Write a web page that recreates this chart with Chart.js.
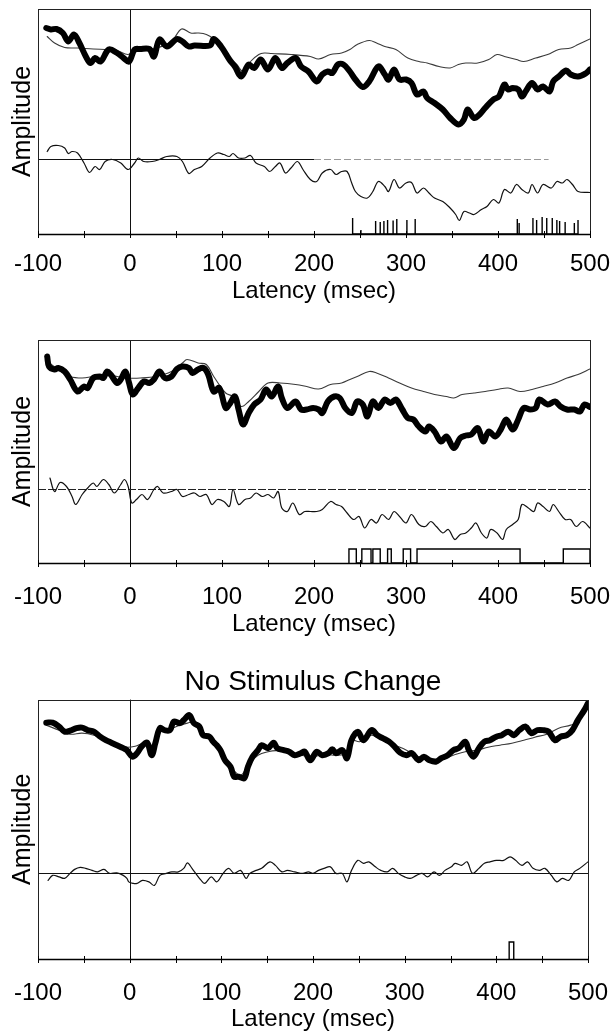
<!DOCTYPE html>
<html>
<head>
<meta charset="utf-8">
<title>ERP panels</title>
<script src="https://cdn.jsdelivr.net/npm/chart.js@4.4.1/dist/chart.umd.min.js"></script>
<style>
  html, body { margin: 0; padding: 0; background: #fff; }
  body { width: 610px; height: 1034px; position: relative; overflow: hidden; }
  .panel { position: absolute; left: 0; width: 610px; }
</style>
</head>
<body>
<div class="panel" id="w1" style="top:0;height:306px"><canvas id="c1"></canvas></div>
<div class="panel" id="w2" style="top:331px;height:308px"><canvas id="c2"></canvas></div>
<div class="panel" id="w3" style="top:655px;height:379px"><canvas id="c3"></canvas></div>
<script>
// latency axis (msec)
const xTickLabels = [-100, 0, 100, 200, 300, 400, 500];
const xMinorTicks = [-50, 50, 150, 250, 350, 450];

// ---- panel 1 ----
const p1ThickT = [-91,-86,-80,-73,-67,-61,-55,-48,-43,-38,-32,-23,-14,-7,-1,5,11,21,26,32,40,51,57,64,70,87,91,99,108,114,121,129,135,142,150,158,165,171,180,186,194,203,209,215,220,226,232,239,245,253,260,270,277,281,287,293,300,306,312,319,323,331,340,348,357,363,367,374,380,386,395,401,407,411,416,422,426,430,437,443,449,456,460,466,474,479,487,496,500];
const p1ThickV = [26.2,25.9,26.0,25.2,23.5,24.9,23.2,20.5,19.2,20.2,19.5,21.9,21.2,20.2,19.5,21.9,22.0,22.0,20.5,23.9,22.5,24.0,23.5,22.5,22.7,22.7,24.0,22.5,19.9,18.5,16.5,18.9,18.2,19.9,17.9,20.2,18.2,19.2,20.2,18.5,17.5,15.5,16.9,17.5,17.2,18.9,18.9,17.5,15.9,14.4,15.5,18.5,16.9,15.9,17.9,15.9,15.9,15.2,12.9,13.5,12.2,11.2,9.9,8.2,6.9,7.9,9.9,8.2,8.9,10.2,11.9,12.5,14.9,13.9,14.2,13.9,12.5,13.5,15.2,13.9,14.5,13.5,15.5,16.5,17.7,16.9,16.5,17.2,17.9];
const p1ThinT = [-90,-82,-71,-57,-40,-23,-14,-2,7,28,45,56,66,74,83,91,99,108,116,123,131,140,146,154,175,196,205,218,230,239,247,260,268,277,289,302,314,323,336,348,357,365,378,390,399,407,420,428,441,454,466,479,487,500];
const p1ThinV = [24.5,23.2,22.3,22.2,22.0,21.9,21.7,20.9,22.0,22.2,23.5,26.0,25.2,25.2,24.9,24.0,22.5,20.2,18.9,17.5,19.5,20.9,21.2,21.1,20.9,20.5,20.0,20.9,21.2,21.9,22.9,23.7,23.2,22.5,21.9,20.2,19.5,19.2,18.5,18.2,18.9,19.2,19.2,19.9,20.9,20.5,19.9,19.5,20.2,20.9,21.9,22.2,22.9,24.0];
const p1DiffT = [-90,-86,-78,-71,-67,-63,-57,-50,-44,-38,-33,-27,-19,-10,-2,5,9,15,24,32,40,51,57,64,70,78,87,95,102,108,112,118,125,131,137,146,152,158,163,169,175,182,188,196,203,209,218,224,230,236,241,245,251,258,264,270,277,281,287,293,300,306,312,319,325,331,340,348,354,358,363,369,374,382,388,395,401,407,414,420,426,433,437,443,449,458,464,470,475,481,487,500];
const p1DiffV = [1.5,2.5,2.7,2.2,1.1,1.5,1.2,-0.8,-2.7,-1.5,-2.1,-0.5,-0.1,-0.8,-2.1,-0.8,0.2,-0.5,-0.5,-0.1,0.5,0.5,-0.5,-2.9,-2.1,-1.5,0.2,1.2,0.9,0.5,1.1,0.2,0.2,0.7,-0.8,-1.5,-2.5,-1.5,-0.8,-2.8,-1.8,-0.5,-2.1,-4.1,-4.5,-2.8,-2.1,-3.1,-2.5,-2.5,-4.8,-6.5,-7.5,-7.8,-6.5,-4.5,-5.5,-6.5,-4.1,-5.8,-4.8,-4.7,-6.8,-5.8,-6.8,-7.8,-8.5,-9.8,-11.1,-12.3,-10.5,-10.8,-11.1,-10.1,-9.5,-8.1,-8.8,-6.1,-6.8,-5.1,-6.1,-6.8,-5.1,-6.8,-5.1,-5.8,-4.5,-4.8,-4.1,-5.1,-6.5,-6.7];
// significant latencies (single samples)
const p1Spikes = [242,251,267,272,276,280,286,290,301,310,421,423,438,442,448,453,459,464,467,473,483,487];
const p1SpikeH = [3.2,0.8,2.6,2.4,2.6,2.8,2.7,3.0,2.8,3.0,3.0,2.2,3.2,2.8,3.4,3.2,3.2,2.8,2.6,2.4,2.2,2.8];

// ---- panel 2 ----
const p2ThickT = [-90,-88,-82,-78,-71,-65,-57,-50,-46,-40,-33,-29,-25,-21,-14,-10,-5,-1,3,9,15,21,26,32,38,45,51,57,64,68,74,80,85,91,97,104,108,114,118,123,129,135,142,148,154,161,165,171,180,186,192,199,205,209,215,222,228,234,241,247,253,258,264,270,277,283,289,296,302,308,314,321,325,331,338,344,352,359,365,371,378,384,390,397,403,409,416,422,428,435,441,445,454,462,468,475,483,489,494,500];
const p2ThickV = [26.5,24.5,23.9,24.2,23.5,21.9,19.5,20.5,20.2,22.2,22.5,22.2,23.5,22.9,21.2,21.9,23.5,21.2,18.9,20.2,21.5,21.2,21.9,23.5,22.2,22.5,24.0,24.5,24.2,23.2,23.9,24.2,22.9,19.5,20.2,16.2,16.9,18.5,15.9,12.9,15.2,16.9,17.9,19.9,18.5,20.5,18.2,16.2,17.5,15.9,15.9,16.2,15.9,15.2,17.5,18.5,18.2,16.2,15.2,17.5,16.9,14.5,17.5,16.2,17.9,17.2,17.9,15.9,14.2,13.9,12.5,11.5,12.5,11.5,9.5,10.5,8.2,10.2,10.7,10.9,12.2,9.5,11.5,10.5,11.9,13.9,11.9,13.9,16.2,15.9,16.2,17.9,16.9,17.5,16.5,15.9,15.9,15.5,16.9,16.4];
const p2ThinT = [-90,-78,-65,-52,-40,-27,-14,-2,11,28,45,57,62,74,83,91,104,112,121,129,140,150,163,180,192,205,218,230,239,247,260,268,281,293,306,319,331,344,352,361,374,386,399,411,424,437,449,462,475,487,500];
const p2ThinV = [25.5,23.9,22.5,22.2,22.5,22.9,22.5,22.2,22.2,22.5,23.5,25.2,25.9,25.2,24.9,22.5,19.2,18.5,16.5,17.5,19.5,21.2,21.2,20.9,20.5,20.0,20.9,21.2,21.9,22.5,23.5,23.2,22.2,21.2,20.2,19.5,18.9,18.5,18.2,18.9,19.2,19.5,19.9,20.2,19.5,19.9,20.5,21.2,22.2,22.9,24.0];
const p2DiffT = [-87,-82,-76,-69,-63,-59,-52,-46,-40,-36,-29,-23,-17,-10,-6,-2,2,7,13,19,26,30,36,45,51,57,64,70,76,83,89,95,102,108,112,118,125,131,137,144,150,156,161,165,171,177,184,190,196,203,209,218,224,230,236,243,249,255,262,268,274,281,287,293,300,306,314,321,327,333,340,346,353,359,365,371,376,382,388,392,399,405,409,416,422,426,433,439,443,449,456,460,466,473,479,485,492,500];
const p2DiffV = [2.2,-0.5,1.3,0.5,-1.5,-3.1,-1.1,0.2,1.2,0.5,1.9,0.9,-0.8,0.9,1.9,0.5,-2.8,-2.1,-1.1,-2.1,-0.1,0.5,-0.8,-0.5,-0.1,-1.5,-1.1,-0.8,-1.5,-1.1,-3.1,-2.1,-2.5,-3.5,-0.1,-3.1,-2.1,-1.8,-0.8,-1.5,-1.1,-1.8,-0.5,-3.8,-4.5,-2.8,-5.1,-4.5,-4.5,-4.5,-4.1,-2.5,-3.1,-3.5,-4.8,-6.1,-5.5,-7.8,-6.1,-6.8,-5.1,-6.1,-4.5,-5.5,-6.8,-5.1,-7.1,-7.5,-6.5,-7.5,-8.8,-8.1,-10.1,-9.1,-8.8,-7.8,-6.8,-8.8,-9.8,-8.1,-8.8,-10.1,-8.1,-7.1,-6.1,-3.1,-3.8,-4.5,-2.8,-3.5,-4.5,-3.1,-4.5,-6.1,-6.1,-7.5,-6.5,-7.8];
// significant windows (msec)
const p2WinStart = [238,252,264,280,297,312,471];
const p2WinEnd = [246,262,272,284,305,424,500];

// ---- panel 3: No Stimulus Change ----
const p3ThickT = [-91,-84,-77,-71,-65,-58,-52,-46,-39,-33,-26,-20,-14,-7,-3,3,8,13,19,24,28,33,38,44,48,55,59,65,70,76,80,87,91,95,99,104,110,114,119,125,129,134,140,144,151,157,161,168,174,180,187,191,197,204,210,217,221,225,232,237,242,249,255,264,270,276,283,289,295,302,308,315,321,327,334,340,347,353,359,366,370,375,381,387,393,400,406,413,419,425,432,438,445,451,457,464,470,477,483,489,496,500];
const p3ThickV = [30.0,30.0,29.2,28.2,28.4,28.9,29.0,28.5,28.2,27.3,26.5,26.0,25.5,24.9,24.5,23.2,23.9,25.2,26.0,23.5,25.9,28.9,28.5,28.5,30.2,29.9,30.5,31.5,29.9,29.2,27.5,27.2,26.2,25.5,24.5,22.5,21.2,19.2,19.2,18.9,21.2,23.2,24.5,25.5,24.9,26.0,24.9,24.5,24.2,23.5,23.9,24.2,22.5,24.2,23.5,23.9,24.7,23.9,24.5,22.9,26.5,28.2,26.5,28.5,27.5,26.9,26.2,25.2,24.0,23.5,23.9,22.5,23.2,22.5,22.2,22.9,23.5,24.5,24.9,26.2,24.5,23.2,24.9,26.2,26.5,27.2,27.5,28.2,27.5,28.5,29.2,27.9,28.5,28.5,28.2,26.5,27.2,27.5,28.5,30.5,32.5,33.9];
const p3ThinT = [-91,-77,-65,-52,-39,-26,-14,-3,6,16,27,33,46,55,63,72,80,91,99,110,121,129,140,151,161,174,187,200,212,225,237,242,251,264,276,289,302,315,327,340,353,366,379,391,404,417,430,442,455,468,481,489,500];
const p3ThinV = [29.5,28.5,27.7,27.9,27.5,26.5,25.5,25.1,25.3,25.9,25.5,28.2,28.9,29.5,29.9,30.2,28.2,26.0,24.2,21.2,19.5,21.5,23.5,24.2,24.4,24.0,23.5,23.2,23.7,23.5,23.9,26.5,26.2,27.5,26.5,25.5,24.5,23.2,22.9,22.7,23.5,24.2,24.5,25.1,25.5,25.9,26.5,27.1,27.7,28.9,29.5,30.2,33.5];
const p3DiffT = [-89,-84,-77,-71,-65,-60,-54,-48,-41,-35,-28,-22,-14,-7,-3,-1,4,8,14,21,27,33,40,46,53,59,63,68,72,78,82,89,95,102,108,114,121,127,131,138,144,153,159,166,172,180,189,195,200,206,212,219,225,232,237,242,249,255,261,268,274,281,287,293,300,306,313,319,325,332,338,344,351,355,362,368,374,381,387,393,400,408,415,421,428,434,440,447,453,460,466,472,479,485,491,500];
const p3DiffV = [-1.5,-0.5,-0.8,-1.1,-0.1,0.7,1.1,0.9,0.5,0.2,0.7,-0.1,0,-0.5,-1.1,-1.8,-2.1,-2.1,-1.5,-1.8,-2.5,-0.5,-0.1,0.2,0.2,0.9,2.0,0.9,-0.1,-1.5,-2.1,-0.8,-1.8,-0.1,0.9,-0.1,0.5,-1.1,-0.1,0.5,0.9,2.2,1.5,0.2,0.5,0.2,-0.1,0.2,-0.1,0.5,0.9,1.2,-0.1,-0.1,-1.8,0.5,2.5,1.9,2.2,1.2,0.5,0.2,0.9,-0.1,-0.8,-1.1,-0.5,-0.1,-0.8,0.2,-0.5,0.5,1.2,1.9,1.5,2.2,-0.1,0.9,1.9,2.2,2.5,2.5,3.2,2.5,1.5,2.2,0.9,0.5,0.9,-0.5,-1.8,-1.1,-1.5,0.2,0.9,2.2];
const p3WinStart = [414];
const p3WinEnd = [419];

Chart.defaults.font.family = "'Liberation Sans', Arial, sans-serif";
Chart.defaults.color = '#000';

const pts = (T, V) => T.map((t, i) => ({ x: t, y: V[i] }));

// vertical ticks sitting on the bottom axis
function spikePts(times, heights, base) {
  const out = [];
  times.forEach((t, i) => out.push({ x: t, y: base }, { x: t, y: base + heights[i] }, { x: t, y: base }));
  return out;
}
// boxes for significant windows
function windowPts(starts, ends, h, base) {
  const out = [];
  starts.forEach((s, i) => out.push({ x: s, y: base }, { x: s, y: base + h }, { x: ends[i], y: base + h }, { x: ends[i], y: base }));
  return out;
}

// frame, onset line, baseline and axis ticks
const paper = {
  id: 'paper',
  beforeDatasetsDraw(chart, args, opts) {
    const { ctx, chartArea: a, scales: { x, y } } = chart;
    ctx.save();
    ctx.lineWidth = 1;
    ctx.strokeStyle = '#111';
    const x0 = Math.round(x.getPixelForValue(0)) + 0.5;
    ctx.beginPath(); ctx.moveTo(x0, a.top); ctx.lineTo(x0, a.bottom); ctx.stroke();
    const yb = Math.round(y.getPixelForValue(0)) + 0.5;
    opts.baseline.forEach((seg) => {
      ctx.setLineDash(seg.dash || []);
      ctx.strokeStyle = seg.color;
      ctx.beginPath();
      ctx.moveTo(x.getPixelForValue(seg.from), yb);
      ctx.lineTo(x.getPixelForValue(seg.to), yb);
      ctx.stroke();
    });
    ctx.restore();
  },
  afterDatasetsDraw(chart) {
    const { ctx, chartArea: a, scales: { x } } = chart;
    ctx.save();
    ctx.strokeStyle = '#222';
    ctx.lineWidth = 1;
    ctx.strokeRect(Math.round(a.left) + 0.5, Math.round(a.top) + 0.5, Math.round(a.width), Math.round(a.height));
    ctx.strokeStyle = '#000';
    ctx.lineWidth = 1.4;
    ctx.beginPath(); ctx.moveTo(a.left, Math.round(a.bottom) + 0.5); ctx.lineTo(a.right, Math.round(a.bottom) + 0.5); ctx.stroke();
    ctx.lineWidth = 1;
    xTickLabels.concat(xMinorTicks).forEach((v) => {
      const px = Math.round(x.getPixelForValue(v)) + 0.5;
      ctx.beginPath(); ctx.moveTo(px, a.bottom - 3); ctx.lineTo(px, a.bottom + 4); ctx.stroke();
    });
    ctx.restore();
  },
};

function makePanel(id, p) {
  const ds = [
    { label: 'thick', data: pts(p.thickT, p.thickV), borderColor: '#000', borderWidth: 6, order: 1 },
    { label: 'thin', data: pts(p.thinT, p.thinV), borderColor: '#3a3a3a', borderWidth: 1.1, order: 2 },
    { label: 'diff', data: pts(p.diffT, p.diffV), borderColor: '#111', borderWidth: 1.2, order: 3 },
    { label: 'sig', data: p.sig, borderColor: '#000', borderWidth: 1.4, tension: 0, order: 4, borderJoinStyle: 'miter', borderCapStyle: 'butt' },
  ];
  return new Chart(document.getElementById(id), {
    type: 'line',
    data: { datasets: ds },
    options: {
      responsive: true, maintainAspectRatio: false, animation: false, events: [],
      layout: { padding: { top: p.padTop, right: p.padRight, left: 0, bottom: 0 } },
      elements: {
        point: { radius: 0 },
        line: { tension: 0.35, borderCapStyle: 'round', borderJoinStyle: 'round', fill: false },
      },
      plugins: {
        legend: { display: false },
        tooltip: { enabled: false },
        title: p.title
          ? { display: true, text: p.title, fullSize: false, color: '#000', font: { size: 28, weight: 'normal' }, padding: { top: 10, bottom: 1 } }
          : { display: false },
        paper: { baseline: p.baseline },
      },
      scales: {
        x: {
          type: 'linear', min: -100, max: 500, offset: false,
          afterBuildTicks: (s) => { s.ticks = xTickLabels.map((v) => ({ value: v })); },
          afterFit: (s) => { s.height = p.axisH; },
          // invisible tick marks only push the labels down; ticks are drawn by the plugin
          grid: { display: true, drawOnChartArea: false, drawTicks: true, tickLength: p.tickPad, tickColor: 'rgba(0,0,0,0)', color: 'rgba(0,0,0,0)' },
          border: { display: false },
          ticks: { autoSkip: false, maxRotation: 0, minRotation: 0, padding: 0, color: '#000', font: { size: 24 } },
          title: { display: true, text: 'Latency (msec)', color: '#000', font: { size: 24 }, padding: 0 },
        },
        y: {
          type: 'linear', min: p.yMin, max: p.yMax,
          afterFit: (s) => { s.width = 38; },
          grid: { display: false },
          border: { display: false },
          ticks: { display: false },
          title: { display: true, text: 'Amplitude', color: '#000', font: { size: 25 }, padding: { top: 8, bottom: 0 } },
        },
      },
    },
    plugins: [paper],
  });
}

makePanel('c1', {
  thickT: p1ThickT, thickV: p1ThickV, thinT: p1ThinT, thinV: p1ThinV, diffT: p1DiffT, diffV: p1DiffV,
  sig: spikePts(p1Spikes, p1SpikeH, -15),
  yMin: -15, yMax: 30, padTop: 9, padRight: 20, axisH: 72, tickPad: 16,
  baseline: [{ from: -100, to: 200, color: '#111' }, { from: 200, to: 455, color: '#999', dash: [7, 3] }],
});
makePanel('c2', {
  thickT: p2ThickT, thickV: p2ThickV, thinT: p2ThinT, thinV: p2ThinV, diffT: p2DiffT, diffV: p2DiffV,
  sig: windowPts(p2WinStart, p2WinEnd, 2.8, -14.8),
  yMin: -14.8, yMax: 29.8, padTop: 9, padRight: 19, axisH: 76, tickPad: 20,
  baseline: [{ from: -100, to: 500, color: '#222', dash: [8, 2] }],
});
makePanel('c3', {
  thickT: p3ThickT, thickV: p3ThickV, thinT: p3ThinT, thinV: p3ThinV, diffT: p3DiffT, diffV: p3DiffV,
  sig: windowPts(p3WinStart, p3WinEnd, 3.4, -17.2),
  title: 'No Stimulus Change',
  yMin: -17.2, yMax: 34.6, padTop: 0, padRight: 22, axisH: 75, tickPad: 20,
  baseline: [{ from: -100, to: 500, color: '#111' }],
});
</script>
</body>
</html>
